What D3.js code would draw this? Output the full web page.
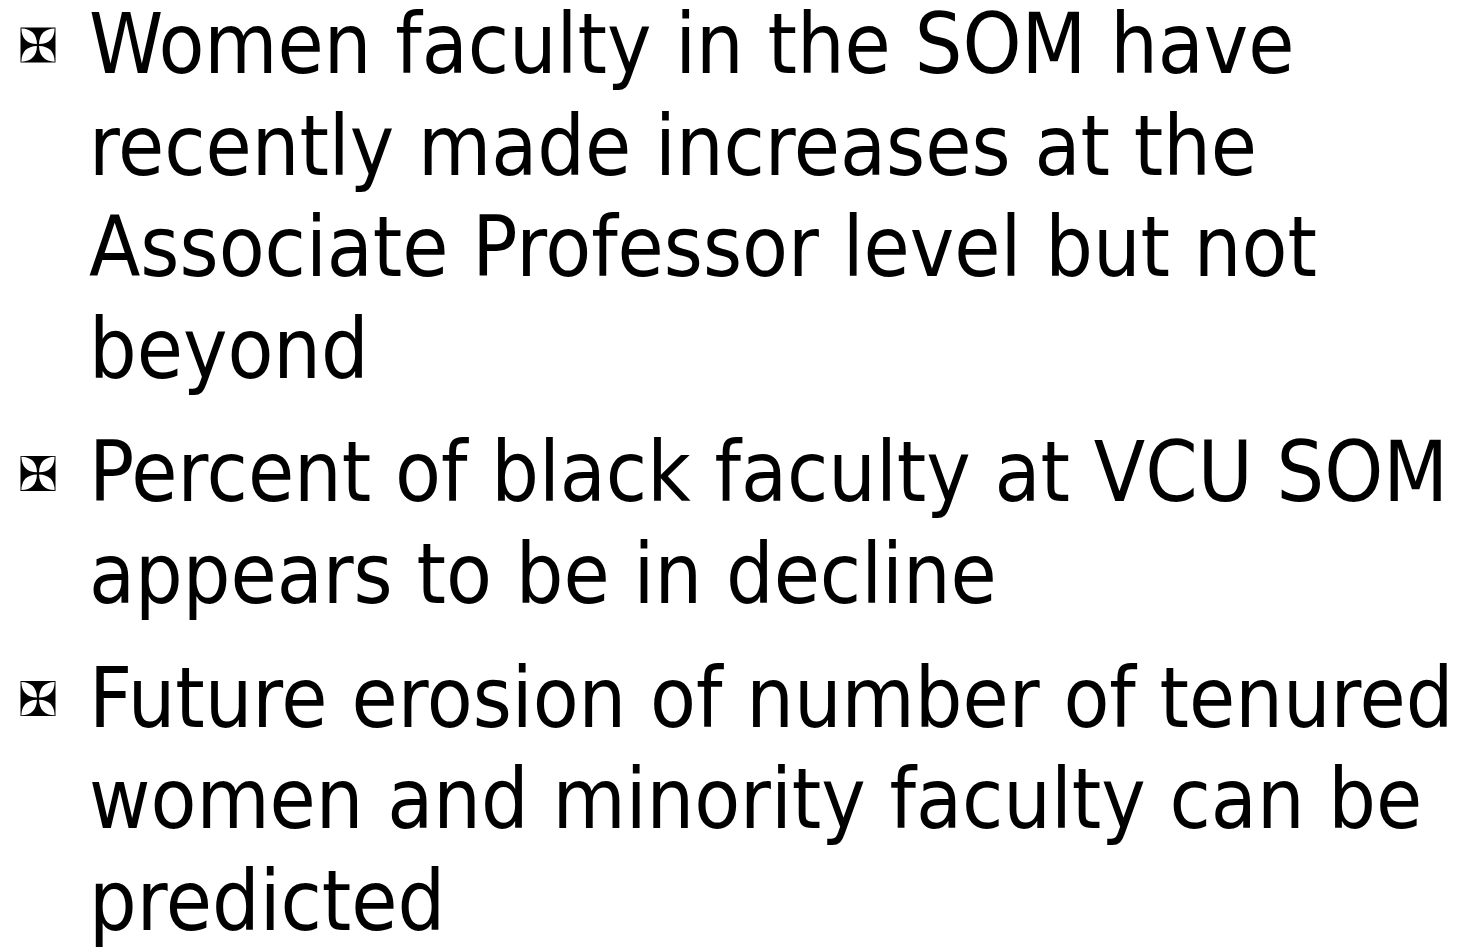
<!doctype html>
<html>
<head>
<script type='text/javascript' src='https://d3js.org/d3.v7.min.js'></script>
<style>
body { margin: 0; background: #fff; }
</style>
</head>
<body>
<script>
var width = 1473, height = 948;

// slide content: one array of lines per bullet
var bullet1 = ['Women faculty in the SOM have', 'recently made increases at the', 'Associate Professor level but not', 'beyond'];
var bullet2 = ['Percent of black faculty at VCU SOM', 'appears to be in decline'];
var bullet3 = ['Future erosion of number of tenured', 'women and minority faculty can be', 'predicted'];
var bullets = [bullet1, bullet2, bullet3];

var svg = d3.select('body').append('svg').attr('width', width).attr('height', height);

// flatten to lines with their running index and paragraph
var rows = [];
bullets.forEach(function(lines, p) {
  lines.forEach(function(t, i) {
    rows.push({text: t, para: p, first: i == 0, idx: rows.length});
  });
});

// baseline position: line pitch plus extra paragraph gap
var lineY = d3.scaleLinear().domain([0, 1]).range([73, 174.6]);
var paraGap = 22;
function baseY(d) { return lineY(d.idx) + d.para * paraGap; }

var textX = 89, fontSize = 83.5;

svg.selectAll('text.line')
  .data(rows)
  .join('text')
  .attr('class', 'line')
  .attr('x', textX)
  .attr('y', baseY)
  .attr('font-family', "'DejaVu Sans Condensed', 'DejaVu Sans', sans-serif")
  .attr('font-size', fontSize)
  .attr('fill', '#000')
  .text(function(d) { return d.text; });

// maltese cross bullet: black square with four white leaves on the diagonals
function crossPath(s) {
  var h = s / 2, a = h * 0.95, b = h * 0.06, w = h * 0.42;
  var p = 'M' + (-h) + ',' + (-h) + 'H' + h + 'V' + h + 'H' + (-h) + 'Z';
  [[1, 1], [1, -1], [-1, 1], [-1, -1]].forEach(function(k) {
    var sx = k[0], sy = k[1];
    var x1 = sx * a, y1 = sy * a, x2 = sx * b, y2 = sy * b;
    var mx = (x1 + x2) / 2, my = (y1 + y2) / 2;
    // perpendicular to diagonal
    var px = sx * w, py = -sy * w;
    p += 'M' + x1 + ',' + y1 + 'Q' + (mx + px) + ',' + (my + py) + ' ' + x2 + ',' + y2 +
         'Q' + (mx - px) + ',' + (my - py) + ' ' + x1 + ',' + y1 + 'Z';
  });
  return p;
}

svg.selectAll('path.bullet')
  .data(rows.filter(function(d) { return d.first; }))
  .join('path')
  .attr('class', 'bullet')
  .attr('transform', function(d) { return 'translate(38,' + (baseY(d) - 28) + ')'; })
  .attr('d', crossPath(35))
  .attr('fill', '#000')
  .attr('fill-rule', 'evenodd');
</script>
</body>
</html>
